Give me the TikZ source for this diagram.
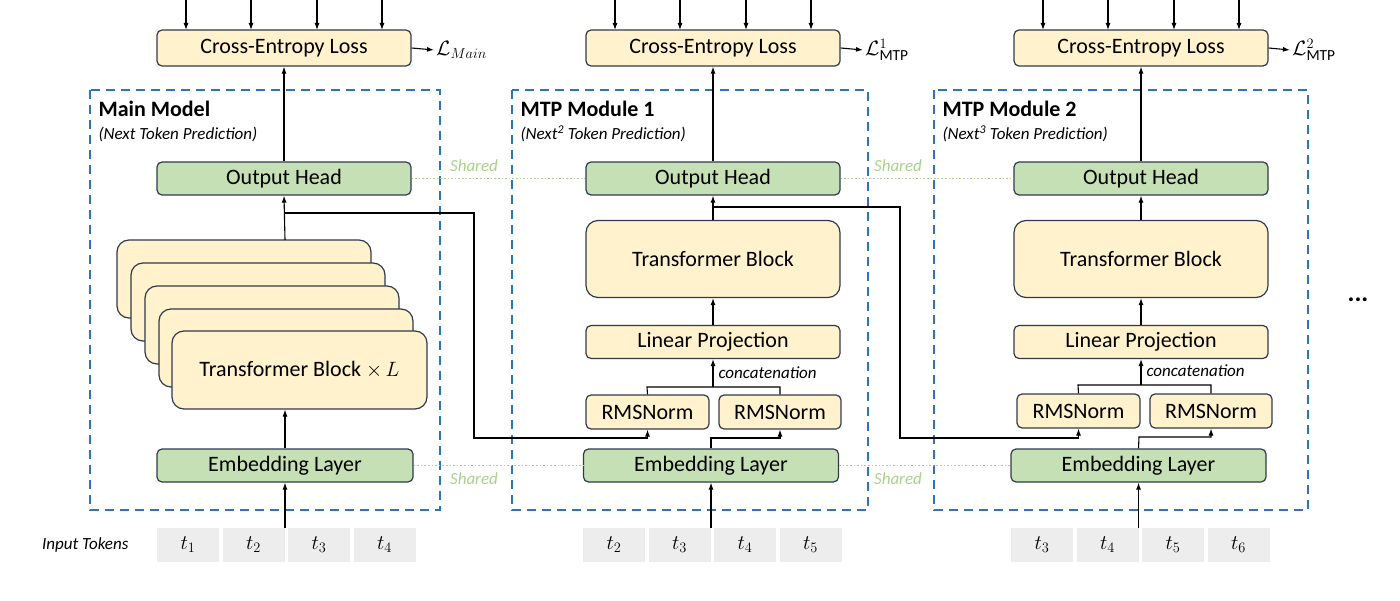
\documentclass[tikz,border=0pt]{standalone}
\usepackage{fontspec}
\setmainfont{Carlito}
\usetikzlibrary{arrows.meta}
\definecolor{yel}{HTML}{FFF2CC}
\definecolor{grn}{HTML}{C5E0B4}
\definecolor{edge}{HTML}{2F3B4C}
\definecolor{dblue}{HTML}{2E75B6}
\definecolor{shg}{HTML}{A9D18E}
\definecolor{tokg}{HTML}{EDEDED}
\begin{document}
\begin{tikzpicture}[x=1pt,y=-1pt,
  box/.style={draw=edge,line width=1.2pt,rounded corners=5pt,inner sep=0pt,font=\fontsize{22}{24}\selectfont},
  ybox/.style={box,fill=yel},
  gbox/.style={box,fill=grn},
  tok/.style={fill=tokg,minimum width=62pt,minimum height=34pt,inner sep=0pt,font=\fontsize{22}{24}\selectfont},
  modbox/.style={draw=dblue,line width=1.6pt,dash pattern=on 9pt off 6pt},
  arr/.style={line width=1.1pt,-{Latex[length=7pt,width=5pt]}},
  ln/.style={line width=1.1pt},
  shared/.style={draw=shg,line width=1.6pt,dotted},
  shtxt/.style={text=shg,font=\itshape\fontsize{17}{19}\selectfont},
  title/.style={anchor=west,font=\bfseries\fontsize{22}{24}\selectfont},
  sub/.style={anchor=west,font=\itshape\fontsize{17}{19}\selectfont},
  loss/.style={anchor=west,inner sep=2pt,font=\fontsize{22}{24}\selectfont}]
\useasboundingbox (0,0) rectangle (1400,601);

% ---------- Main model ----------
\draw[modbox] (90,90) rectangle (440,510);
\node[title] (t0) at (95,109) {Main Model};
\node[sub] (s0) at (95,134) {(Next Token Prediction)};
\node[ybox,minimum width=254pt,minimum height=36pt] (ce0) at (284,48) {Cross-Entropy Loss};
\node[loss] (l0) at (434,50) {$\mathcal{L}_{Main}$};
\node[gbox,minimum width=254pt,minimum height=33pt] (oh0) at (284,178.5) {Output Head};
\foreach \i/\xa/\xb/\yt in {1/117/371/240,2/131/385/263,3/145/399/286,4/159/413/309}{
  \draw[ybox,rounded corners=12pt] (\xa,\yt) rectangle (\xb,\yt+78);
}
\node[ybox,rounded corners=12pt,minimum width=255pt,minimum height=78pt] (tb0) at (299.5,370) {Transformer Block $\times\,L$};
\coordinate (bk0) at (285,240);
\node[gbox,minimum width=256pt,minimum height=33pt] (em0) at (285,465.5) {Embedding Layer};
\node[tok] (a1) at (188,545) {$t_1$};
\node[tok] (a2) at (253.5,545) {$t_2$};
\node[tok] (a3) at (319,545) {$t_3$};
\node[tok] (a4) at (384.5,545) {$t_4$};
\node[anchor=east,font=\itshape\fontsize{17}{19}\selectfont] (it) at (132,545) {Input Tokens};

\draw[arr] (em0.south |- a3.north) -- (em0.south);
\draw[arr] (em0.north) -- (tb0.south -| em0.north);
\draw[arr] (bk0) -- (oh0.south);
\draw[arr] (oh0.north) -- (ce0.south);
\draw[arr] (ce0.east) -- (l0.west);
\foreach \k/\x in {1/186,2/251,3/317,4/382}{
  \coordinate (p0\k) at (\x,0);
  \draw[arr] (p0\k) -- (\x,30);
}

% ---------- MTP module 1 ----------
\draw[modbox] (512,90) rectangle (868,510);
\node[title] (t1) at (517,109) {MTP Module 1};
\node[sub] (s1) at (517,134) {(Next\textsuperscript{2} Token Prediction)};
\node[ybox,minimum width=254pt,minimum height=36pt] (ce1) at (713,48) {Cross-Entropy Loss};
\node[loss] (l1) at (863,50) {$\mathcal{L}^{1}_{\mathrm{MTP}}$};
\node[gbox,minimum width=254pt,minimum height=33pt] (oh1) at (713,178.5) {Output Head};
\node[ybox,rounded corners=12pt,minimum width=254pt,minimum height=77pt] (tb1) at (713,259) {Transformer Block};
\node[ybox,minimum width=254pt,minimum height=33pt] (lp1) at (713,342) {Linear Projection};
\node[ybox,minimum width=123pt,minimum height=34pt] (ra1) at (647.5,412) {RMSNorm};
\node[ybox,minimum width=122pt,minimum height=34pt] (rb1) at (780,412) {RMSNorm};
\node[gbox,minimum width=255pt,minimum height=33pt] (em1) at (711,465.5) {Embedding Layer};
\node[tok] (b1) at (614,545) {$t_2$};
\node[tok] (b2) at (679.5,545) {$t_3$};
\node[tok] (b3) at (745,545) {$t_4$};
\node[tok] (b4) at (810.5,545) {$t_5$};
\node[anchor=west,font=\itshape\fontsize{17}{19}\selectfont] (cc1) at (715,373) {concatenation};

\draw[arr] (em1.south |- b3.north) -- (em1.south);
\draw[arr] (em1.north) -- (711,438) -| (rb1.south);
\draw[ln] (ra1.north) -- (647,387) -| (rb1.north);
\draw[arr] (713,387) -- (lp1.south);
\draw[arr] (lp1.north) -- (tb1.south);
\draw[arr] (tb1.north) -- (oh1.south);
\draw[arr] (oh1.north) -- (ce1.south);
\draw[arr] (ce1.east) -- (l1.west);
\foreach \k/\x in {1/615,2/680,3/746,4/811}{
  \coordinate (p1\k) at (\x,0);
  \draw[arr] (p1\k) -- (\x,30);
}
\coordinate (j0) at (285,213);
\draw[arr] (j0) -- (474,213) -- (474,438) -| (ra1.south);

% ---------- MTP module 2 ----------
\draw[modbox] (934,90) rectangle (1308,510);
\node[title] (t2) at (939,109) {MTP Module 2};
\node[sub] (s2) at (939,134) {(Next\textsuperscript{3} Token Prediction)};
\node[ybox,minimum width=254pt,minimum height=36pt] (ce2) at (1141,48) {Cross-Entropy Loss};
\node[loss] (l2) at (1290,50) {$\mathcal{L}^{2}_{\mathrm{MTP}}$};
\node[gbox,minimum width=254pt,minimum height=33pt] (oh2) at (1141,178.5) {Output Head};
\node[ybox,rounded corners=12pt,minimum width=254pt,minimum height=77pt] (tb2) at (1141,259) {Transformer Block};
\node[ybox,minimum width=254pt,minimum height=33pt] (lp2) at (1141,342) {Linear Projection};
\node[ybox,minimum width=123pt,minimum height=34pt] (ra2) at (1078.5,411) {RMSNorm};
\node[ybox,minimum width=122pt,minimum height=34pt] (rb2) at (1211,411) {RMSNorm};
\node[gbox,minimum width=255pt,minimum height=33pt] (em2) at (1138.5,465.5) {Embedding Layer};
\node[tok] (c1) at (1042,545) {$t_3$};
\node[tok] (c2) at (1107.5,545) {$t_4$};
\node[tok] (c3) at (1173,545) {$t_5$};
\node[tok] (c4) at (1238.5,545) {$t_6$};
\node[anchor=west,font=\itshape\fontsize{17}{19}\selectfont] (cc2) at (1143,371) {concatenation};

\draw[arr] (em2.south |- c3.north) -- (em2.south);
\draw[arr] (em2.north) -- (1139,437) -| (rb2.south);
\draw[ln] (ra2.north) -- (1078,385) -| (rb2.north);
\draw[arr] (1141,385) -- (lp2.south);
\draw[arr] (lp2.north) -- (tb2.south);
\draw[arr] (tb2.north) -- (oh2.south);
\draw[arr] (oh2.north) -- (ce2.south);
\draw[arr] (ce2.east) -- (l2.west);
\foreach \k/\x in {1/1043,2/1108,3/1174,4/1239}{
  \coordinate (p2\k) at (\x,0);
  \draw[arr] (p2\k) -- (\x,30);
}
\coordinate (j1) at (713,207);
\draw[arr] (j1) -- (900,207) -- (900,438) -| (ra2.south);

% ---------- shared ----------
\draw[shared] (oh0.east) -- (oh1.west);
\draw[shared] (oh1.east) -- (oh2.west);
\draw[shared] (em0.east) -- (em1.west);
\draw[shared] (em1.east) -- (em2.west);
\node[shtxt] (sh1) at (474,166) {Shared};
\node[shtxt] (sh2) at (898,166) {Shared};
\node[shtxt] (sh3) at (474,479) {Shared};
\node[shtxt] (sh4) at (898,479) {Shared};

\node[font=\bfseries\fontsize{26}{28}\selectfont] (dots) at (1358,300) {...};
\end{tikzpicture}
\end{document}
